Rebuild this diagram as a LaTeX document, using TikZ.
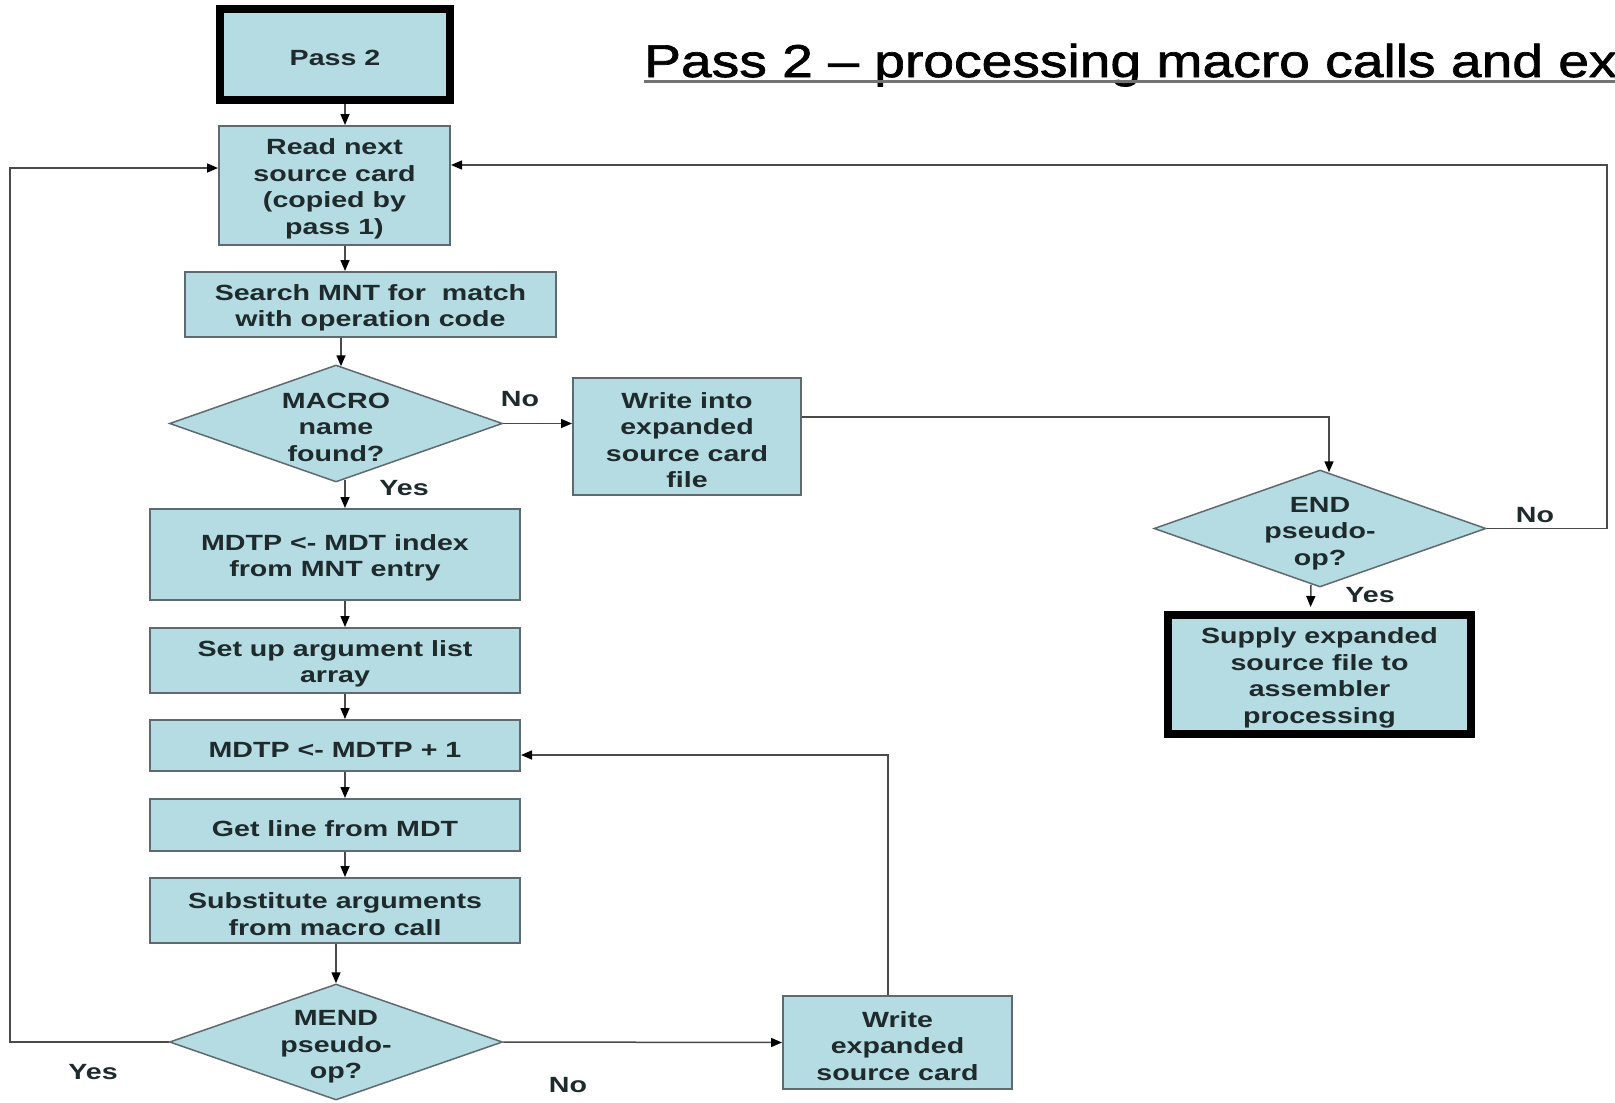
\documentclass[tikz,border=0pt]{standalone}
\usepackage{fontspec}
\setmainfont{Liberation Sans}
\newfontfamily\boxfont{Liberation Sans}[FakeStretch=1.3]
\newfontfamily\titlefont{Liberation Sans}[FakeStretch=1.2,FakeBold=1.5]
\usetikzlibrary{shapes.geometric,arrows.meta}
\definecolor{boxfill}{HTML}{B5DCE2}
\definecolor{boxline}{HTML}{5E6A70}
\definecolor{wire}{HTML}{4A4A4A}
\definecolor{ink}{HTML}{1E2A2C}
\newcommand\bup{\rule{0pt}{23pt}}
\newcommand\dup{\rule{0pt}{25pt}}
\begin{document}
\begin{tikzpicture}[x=1pt,y=-1pt,
  txt/.style={font=\boxfont\bfseries\fontsize{22}{26.5}\selectfont, text=ink},
  box/.style={txt, draw=boxline, line width=2pt, fill=boxfill, align=center, inner sep=0pt},
  termbox/.style={box, draw=black, line width=8pt},
  diam/.style={diamond, draw=boxline, line width=1.5pt, fill=boxfill, inner sep=0pt, minimum width=333pt, minimum height=117pt},
  dtext/.style={txt, align=center, inner sep=0pt},
  lab/.style={txt, inner sep=0pt},
  arr/.style={draw=wire, line width=1.5pt, -{Triangle[length=11pt,width=9pt,color=black]}},
]
\useasboundingbox (0,0) rectangle (1615,1103);
\fill[white] (0,0) rectangle (1615,1103);
\clip (0,0) rectangle (1615,1103);

% title
\node[anchor=base west, inner sep=0pt, font=\titlefont\fontsize{46}{50}\selectfont, text=black] (title) at (644,77) {Pass 2 – processing macro calls and ex};
\draw[line width=3pt, black!55] ([yshift=-4pt]title.base west) -- ([yshift=-4pt]title.base east);

% nodes
\node[termbox, minimum width=230pt, minimum height=91pt] (pass2) at (335,54.5) {\bup Pass 2};
\node[box, minimum width=231pt, minimum height=119pt] (read) at (334.5,185.5) {\bup Read next\\source card\\(copied by\\pass 1)};
\node[box, minimum width=371pt, minimum height=65pt] (search) at (370.5,304.5) {\bup Search MNT for\ \ match\\with operation code};
\node[diam] (macro) at (336,423.5) {};
\node[dtext] (macrot) at (macro.center) {\bup MACRO\\name\\found?};
\node[box, minimum width=228pt, minimum height=117pt] (writeinto) at (687,436.5) {\bup Write into\\expanded\\source card\\file};
\node[box, minimum width=370pt, minimum height=91pt] (mdtpidx) at (335,554.5) {\bup MDTP <- MDT index\\from MNT entry};
\node[box, minimum width=370pt, minimum height=65pt] (setup) at (335,660.5) {\bup Set up argument list\\array};
\node[box, minimum width=370pt, minimum height=51pt] (mdtp1) at (335,745.5) {\bup MDTP <- MDTP + 1};
\node[box, minimum width=370pt, minimum height=52pt] (getline) at (335,825) {\bup Get line from MDT};
\node[box, minimum width=370pt, minimum height=65pt] (subst) at (335,910.5) {\bup Substitute arguments\\from macro call};
\node[diam, minimum height=116pt] (mend) at (336,1042) {};
\node[dtext] (mendt) at (mend.center) {\dup MEND\\pseudo-\\op?};
\node[box, minimum width=229pt, minimum height=93pt] (wexp) at (897.5,1042.5) {\bup Write\\expanded\\source card};
\node[diam, minimum width=332pt] (enddia) at (1320,528.5) {};
\node[dtext] (enddiat) at (enddia.center) {\dup END\\pseudo-\\op?};
\node[termbox, minimum width=303pt, minimum height=119pt] (supply) at (1319.5,674.5) {\bup Supply expanded\\source file to\\assembler\\processing};

% labels
\node[lab] (l1) at (404,488) {Yes};
\node[lab] (l2) at (520,399) {No};
\node[lab] (l3) at (1535,515) {No};
\node[lab] (l4) at (1370,595) {Yes};
\node[lab] (l5) at (93,1072) {Yes};
\node[lab] (l6) at (568,1085) {No};

% connectors
\coordinate (colx) at (345,0);
\coordinate (colm) at (341,0);
\coordinate (rloop) at (1607,0);
\coordinate (lloop) at (10,0);
\draw[arr] (pass2.south -| colx) -- (read.north -| colx);
\draw[arr] (read.south -| colx) -- (search.north -| colx);
\draw[arr] (search.south -| colm) -- ([yshift=-2pt]macro.north -| colm);
\draw[arr] (macro.south -| colx) ++(0,-3) -- (mdtpidx.north -| colx);
\draw[arr] (macro.east) -- (macro.east -| writeinto.west);
\draw[arr] (mdtpidx.south -| colx) -- (setup.north -| colx);
\draw[arr] (setup.south -| colx) -- (mdtp1.north -| colx);
\draw[arr] (mdtp1.south -| colx) -- (getline.north -| colx);
\draw[arr] (getline.south -| colx) -- (subst.north -| colx);
\draw[arr] (subst.south -| mend.north) -- (mend.north);
\draw[arr] (mend.east) -- (wexp.west);
\draw[arr] ([xshift=-9.5pt]wexp.north) |- ([yshift=-9.5pt]mdtp1.east);
\draw[arr] ([yshift=19.5pt]writeinto.east) -| ([xshift=9pt,yshift=-3pt]enddia.north);
\draw[arr] (enddia.east) -- (enddia.east -| rloop) |- ([yshift=20.5pt]read.east);
\draw[arr] (mend.west) -- (mend.west -| lloop) |- ([yshift=17.5pt]read.west);
\draw[arr, shorten >=4pt] ([xshift=-9pt,yshift=3pt]enddia.south) -- ([xshift=-9pt]supply.north);
\end{tikzpicture}
\end{document}
